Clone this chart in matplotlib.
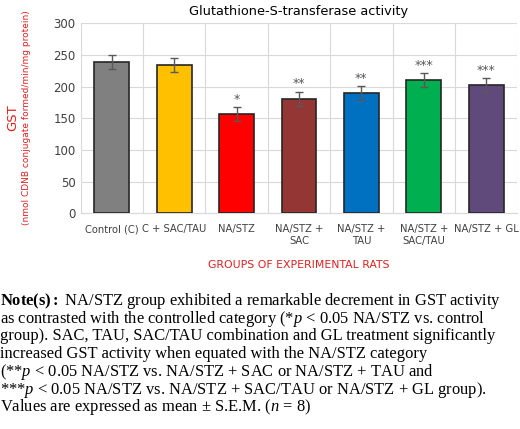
import matplotlib
matplotlib.use("Agg")
import matplotlib.pyplot as plt
import numpy as np

groups = ["Control (C)", "C + SAC/TAU", "NA/STZ", "NA/STZ +\nSAC", "NA/STZ +\nTAU",
          "NA/STZ +\nSAC/TAU", "NA/STZ + GL"]
gst = [238, 234, 157, 181, 190, 210, 202]
sem = [11, 11, 11, 11, 11, 11, 11]
stars = ["", "", "*", "**", "**", "***", "***"]
colors = ["#808080", "#FFC000", "#FF0000", "#943634", "#0070C0", "#00B050", "#604A7B"]

plt.rcParams["mathtext.fontset"] = "custom"
plt.rcParams["mathtext.rm"] = "Liberation Serif"
plt.rcParams["mathtext.it"] = "Liberation Serif:italic"
plt.rcParams["mathtext.bf"] = "Liberation Serif:bold"

fig = plt.figure(figsize=(5.2, 4.29), dpi=100)
ax = fig.add_axes([0.155, 0.503, 0.84, 0.443])
x = np.arange(len(groups))
ax.bar(x, gst, width=0.56, color=colors, edgecolor="#262626", linewidth=1.2, zorder=3)
ax.errorbar(x, gst, yerr=sem, fmt="none", ecolor="#595959", elinewidth=1, capsize=3, zorder=4)
for xi, v, e, s in zip(x, gst, sem, stars):
    if s:
        ax.text(xi, v + e + 2, s, ha="center", va="bottom", fontsize=9, color="#595959")
ax.set_xlim(-0.5, len(groups) - 0.5)
ax.set_ylim(0, 300)
ax.set_yticks(range(0, 301, 50))
ax.set_xticks(x)
ax.set_xticklabels(groups, fontsize=7.2, color="#404040")
ax.tick_params(axis="y", labelsize=8.5, colors="#404040", length=0)
ax.tick_params(axis="x", length=0, pad=8)
ax.set_xticks(np.arange(-0.5, len(groups), 1), minor=True)
ax.tick_params(axis="x", which="minor", length=0)
ax.grid(True, axis="y", color="#D9D9D9", linewidth=0.8, zorder=0)
ax.grid(True, axis="x", which="minor", color="#D9D9D9", linewidth=0.8, zorder=0)
for sp in ax.spines.values():
    sp.set_visible(False)
ax.spines["bottom"].set_visible(True)
ax.spines["bottom"].set_color("#D9D9D9")
ax.set_title("Glutathione-S-transferase activity", fontsize=9.3, pad=6)
ax.set_xlabel("GROUPS OF EXPERIMENTAL RATS", fontsize=7.8, color="#E02020", labelpad=10)
fig.text(0.012, 0.725, "GST", rotation=90, ha="left", va="center", fontsize=9.5, color="#E02020")
fig.text(0.042, 0.725, "(nmol CDNB conjugate formed/min/mg protein)", rotation=90,
         ha="left", va="center", fontsize=6.5, color="#E02020")

notes = [
    r"$\bf{Note(s)}$$\bf{:}$ NA/STZ group exhibited a remarkable decrement in GST activity",
    r"as contrasted with the controlled category (*$p$ < 0.05 NA/STZ vs. control",
    r"group). SAC, TAU, SAC/TAU combination and GL treatment significantly",
    r"increased GST activity when equated with the NA/STZ category",
    r"(**$p$ < 0.05 NA/STZ vs. NA/STZ + SAC or NA/STZ + TAU and",
    r"***$p$ < 0.05 NA/STZ vs. NA/STZ + SAC/TAU or NA/STZ + GL group).",
    r"Values are expressed as mean ± S.E.M. ($n$ = 8)",
]
for i, line in enumerate(notes):
    fig.text(0.0, 1 - (301 + 17.7 * i) / 429, line, ha="left", va="center",
             fontsize=11.9, family="Liberation Serif")

fig.savefig("out.png", dpi=100)
